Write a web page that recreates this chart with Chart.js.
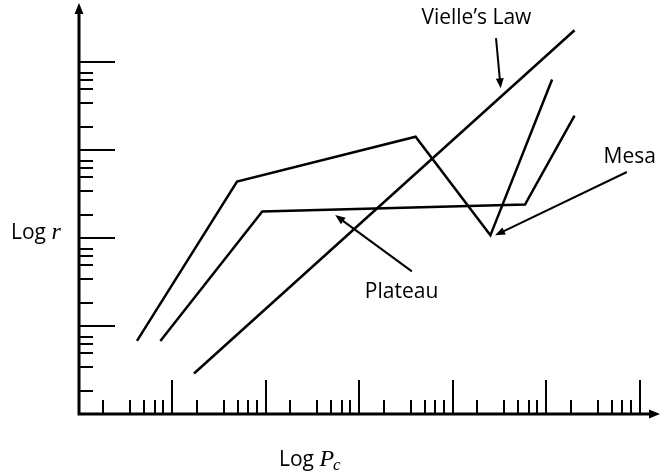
<!DOCTYPE html>
<html>
<head>
<meta charset="utf-8">
<script src="https://cdn.jsdelivr.net/npm/chart.js@4/dist/chart.umd.min.js"></script>
<style>
  html, body { margin: 0; padding: 0; background: #fff; }
  canvas { display: block; }
</style>
</head>
<body>
<canvas id="chart" width="661" height="474"></canvas>
<script>
// Log-log regimes of burning rate r against chamber pressure P_c.
// Values are in decades (log10 units) on both axes.
const mesaX    = [0.62, 1.69, 3.60, 4.40, 5.06];
const mesaY    = [0.83, 2.64, 3.15, 2.03, 3.80];
const plateauX = [0.87, 1.96, 4.77, 5.30];
const plateauY = [0.83, 2.30, 2.38, 3.39];
const vielleX  = [1.23, 5.30];
const vielleY  = [0.46, 4.36];

// Decade ticks (long) and the minor ticks inside each decade (short)
const xDecadeTicks = [1, 2, 3, 4, 5, 6];
const yDecadeTicks = [1, 2, 3, 4];
const xMinorDecades = [0, 1, 2, 3, 4, 5];
const yMinorDecades = [0, 1, 2, 3];
const xMinorOffsets = [0.26, 0.55, 0.70, 0.81, 0.90];
const yMinorOffsets = [0.26, 0.53, 0.69, 0.80, 0.88];

// Axis titles and callout texts
const xTitle = ['Log ', 'P', 'c'];
const yTitle = ['Log ', 'r'];
const callouts = [
  { text: 'Vielle\u2019s Law', label: [4.25, 4.50], tail: [4.46, 4.27], head: [4.51, 3.70] },
  { text: 'Mesa',             label: [5.89, 2.92], tail: [5.86, 2.75], head: [4.45, 2.03] },
  { text: 'Plateau',          label: [3.45, 1.39], tail: [3.56, 1.62], head: [2.74, 2.26] }
];

const X_MAX = 6.214;
const Y_MAX = 4.670;
const SANS = '"Open Sans", "Lato", sans-serif';
const SERIF_IT = 'italic 24px "Liberation Serif", serif';

function toPoints(xs, ys) {
  return xs.map((x, i) => ({ x: x, y: ys[i] }));
}

function arrowHead(ctx, x0, y0, x1, y1, len, half) {
  const a = Math.atan2(y1 - y0, x1 - x0);
  const ca = Math.cos(a), sa = Math.sin(a);
  ctx.beginPath();
  ctx.moveTo(x1, y1);
  ctx.lineTo(x1 - len * ca + half * sa, y1 - len * sa - half * ca);
  ctx.lineTo(x1 - len * ca - half * sa, y1 - len * sa + half * ca);
  ctx.closePath();
  ctx.fill();
}

const axesAndNotes = {
  id: 'axesAndNotes',
  afterDraw(chart) {
    const ctx = chart.ctx;
    const xs = chart.scales.x, ys = chart.scales.y;
    const area = chart.chartArea;
    const x0 = xs.getPixelForValue(0);
    const y0 = ys.getPixelForValue(0);
    ctx.save();
    ctx.strokeStyle = '#000';
    ctx.fillStyle = '#000';
    ctx.lineCap = 'butt';

    // tick marks along the x axis
    ctx.lineWidth = 2;
    ctx.beginPath();
    xDecadeTicks.forEach(v => {
      const px = Math.round(xs.getPixelForValue(v));
      ctx.moveTo(px, y0); ctx.lineTo(px, y0 - 34);
    });
    xMinorDecades.forEach(d => xMinorOffsets.forEach(o => {
      const px = Math.round(xs.getPixelForValue(d + o));
      ctx.moveTo(px, y0); ctx.lineTo(px, y0 - 14);
    }));
    // tick marks along the y axis
    yDecadeTicks.forEach(v => {
      const py = Math.round(ys.getPixelForValue(v));
      ctx.moveTo(x0, py); ctx.lineTo(x0 + 36, py);
    });
    yMinorDecades.forEach(d => yMinorOffsets.forEach(o => {
      const py = Math.round(ys.getPixelForValue(d + o));
      ctx.moveTo(x0, py); ctx.lineTo(x0 + 14, py);
    }));
    ctx.stroke();

    // axis lines with arrowheads
    ctx.lineWidth = 3;
    ctx.beginPath();
    ctx.moveTo(x0, y0 + 1.5); ctx.lineTo(x0, area.top + 8);
    ctx.moveTo(x0 - 1.5, y0); ctx.lineTo(area.right - 8, y0);
    ctx.stroke();
    arrowHead(ctx, x0, y0, x0, area.top, 11, 4.5);
    arrowHead(ctx, x0, y0, area.right, y0, 11, 4.5);

    // callouts
    ctx.lineWidth = 2;
    ctx.font = '21px ' + SANS;
    ctx.textAlign = 'center';
    ctx.textBaseline = 'middle';
    callouts.forEach(c => {
      const tx = xs.getPixelForValue(c.tail[0]), ty = ys.getPixelForValue(c.tail[1]);
      const hx = xs.getPixelForValue(c.head[0]), hy = ys.getPixelForValue(c.head[1]);
      const a = Math.atan2(hy - ty, hx - tx);
      ctx.beginPath();
      ctx.moveTo(tx, ty);
      ctx.lineTo(hx - 8 * Math.cos(a), hy - 8 * Math.sin(a));
      ctx.stroke();
      arrowHead(ctx, tx, ty, hx, hy, 10, 4);
      ctx.fillText(c.text, xs.getPixelForValue(c.label[0]), ys.getPixelForValue(c.label[1]));
    });

    // axis titles
    ctx.textAlign = 'left';
    ctx.textBaseline = 'alphabetic';
    // y title, left of the axis
    let bx = 11, by = 239;
    ctx.font = '21px ' + SANS;
    ctx.fillText(yTitle[0], bx, by);
    bx += ctx.measureText(yTitle[0]).width;
    ctx.font = SERIF_IT;
    ctx.fillText(yTitle[1], bx, by);
    // x title, below the axis
    bx = 279; by = 466;
    ctx.font = '21px ' + SANS;
    ctx.fillText(xTitle[0], bx, by);
    bx += ctx.measureText(xTitle[0]).width;
    ctx.font = SERIF_IT;
    ctx.fillText(xTitle[1], bx, by);
    bx += ctx.measureText(xTitle[1]).width - 1;
    ctx.font = 'italic 17px "Liberation Serif", serif';
    ctx.fillText(xTitle[2], bx, by + 4);
    ctx.restore();
  }
};

new Chart(document.getElementById('chart'), {
  type: 'line',
  data: {
    datasets: [
      { label: 'Mesa', data: toPoints(mesaX, mesaY) },
      { label: 'Plateau', data: toPoints(plateauX, plateauY) },
      { label: 'Vielle\u2019s Law', data: toPoints(vielleX, vielleY) }
    ]
  },
  options: {
    responsive: false,
    animation: false,
    devicePixelRatio: 1,
    layout: { padding: { left: 79, right: 1, top: 3, bottom: 60 } },
    plugins: { legend: { display: false }, tooltip: { enabled: false } },
    elements: {
      line: { borderColor: '#000', borderWidth: 2.5, tension: 0, fill: false,
              borderCapStyle: 'butt', borderJoinStyle: 'miter' },
      point: { radius: 0, hoverRadius: 0 }
    },
    scales: {
      x: { type: 'linear', min: 0, max: X_MAX, display: false },
      y: { type: 'linear', min: 0, max: Y_MAX, display: false }
    }
  },
  plugins: [axesAndNotes]
});
</script>
</body>
</html>
